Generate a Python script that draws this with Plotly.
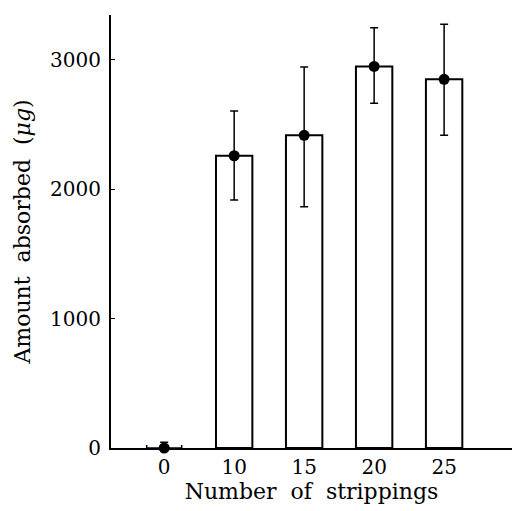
import plotly.graph_objects as go

categories = ["0", "10", "15", "20", "25"]
means = [0, 2257, 2415, 2947, 2847]
err_plus = [45, 345, 527, 299, 425]
err_minus = [45, 342, 552, 285, 432]
x_err = [0.25, 0, 0, 0, 0]
bar_idx = [1, 2, 3, 4]
y_ticks = [0, 1000, 2000, 3000]

xpos = list(range(len(categories)))
font = "DejaVu Serif"

fig = go.Figure()
fig.add_trace(go.Bar(
    x=[xpos[i] for i in bar_idx], y=[means[i] for i in bar_idx],
    width=0.52, marker=dict(color="white", line=dict(color="black", width=2)),
    showlegend=False, hoverinfo="skip"))
fig.add_trace(go.Scatter(
    x=xpos, y=means, mode="markers",
    marker=dict(color="black", size=11),
    error_y=dict(type="data", symmetric=False, array=err_plus, arrayminus=err_minus,
                 color="black", thickness=1.5, width=4),
    error_x=dict(type="data", array=x_err, color="black", thickness=1.5, width=3),
    cliponaxis=False, showlegend=False))

fig.update_layout(
    width=512, height=511,
    margin=dict(l=111, r=0, t=15, b=63),
    paper_bgcolor="white", plot_bgcolor="white",
    font=dict(family=font, color="black", size=20),
    bargap=0.48,
)
fig.update_xaxes(
    range=[-0.76, 4.97], tickmode="array", tickvals=xpos, ticktext=categories,
    showline=True, linecolor="black", linewidth=2, ticks="", showgrid=False,
    zeroline=False, tickfont=dict(size=20, family=font),
    title=dict(text="Number  of  strippings", font=dict(size=22, family=font), standoff=6),
)
fig.update_yaxes(
    range=[0, 3344], tickmode="array", tickvals=y_ticks,
    showline=True, linecolor="black", linewidth=2, ticks="inside", ticklen=4,
    tickcolor="black", tickwidth=1, showgrid=False, zeroline=False,
    tickfont=dict(size=20, family=font), ticklabelstandoff=4,
    title=dict(text="Amount  absorbed  (<i>μg</i>)", font=dict(size=22, family=font), standoff=13),
)
fig.write_html("out.html")
